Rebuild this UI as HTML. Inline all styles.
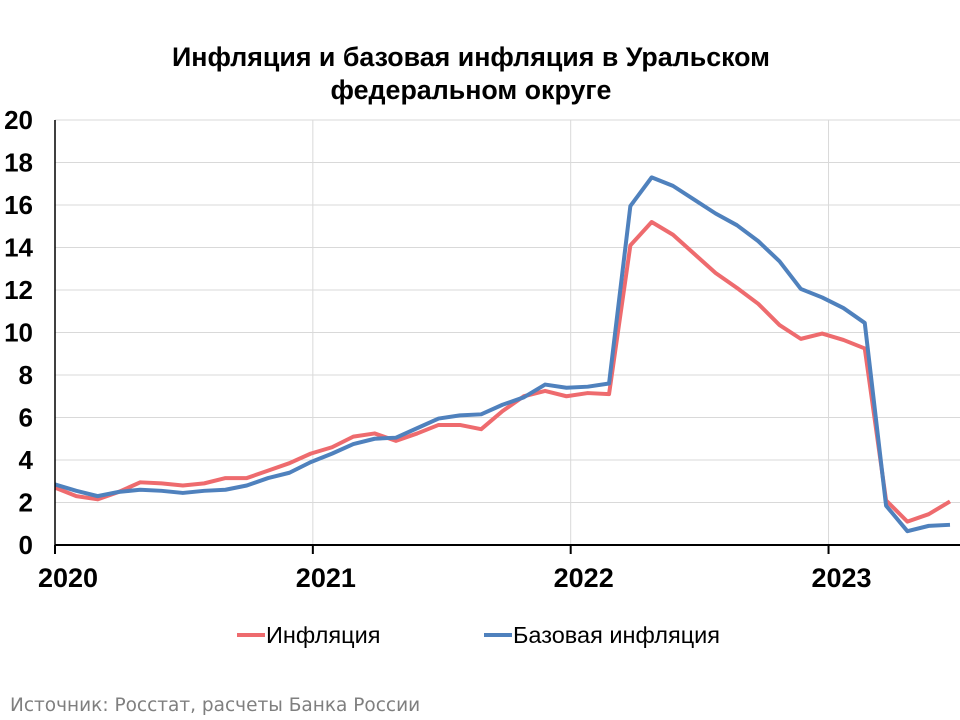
<!DOCTYPE html>
<html><head><meta charset="utf-8"><style>
body{margin:0;background:#fff;}
svg{display:block;font-family:"Liberation Sans","DejaVu Sans",sans-serif;}
</style></head><body>
<svg id="chart" width="960" height="720" viewBox="0 0 960 720">
<text x="471" y="66" text-anchor="middle" font-size="26.8" font-weight="bold">Инфляция и базовая инфляция в Уральском</text>
<text x="471" y="99" text-anchor="middle" font-size="26.8" font-weight="bold">федеральном округе</text>
<g id="grid"></g><g id="series"></g><g id="axes"></g>
<g>
<line x1="237" y1="635" x2="265" y2="635" stroke="#EE6B6E" stroke-width="4"/>
<text x="266" y="643" font-size="23.5">Инфляция</text>
<line x1="484" y1="635" x2="512" y2="635" stroke="#4F81BD" stroke-width="4"/>
<text x="513" y="643" font-size="23.5">Базовая инфляция</text>
</g>
<text x="10" y="711" font-size="18.5" fill="#7f7f7f" font-family="'DejaVu Sans',sans-serif">Источник: Росстат, расчеты Банка России</text>
</svg>
<script>
const inflation=[2.7,2.3,2.15,2.5,2.95,2.9,2.8,2.9,3.15,3.15,3.5,3.85,4.3,4.6,5.1,5.25,4.9,5.25,5.65,5.65,5.45,6.3,7.0,7.25,7.0,7.15,7.1,14.1,15.2,14.6,13.7,12.8,12.1,11.35,10.35,9.7,9.95,9.65,9.25,2.1,1.1,1.45,2.05];
const coreInflation=[2.85,2.55,2.3,2.5,2.6,2.55,2.45,2.55,2.6,2.8,3.15,3.4,3.9,4.3,4.75,5.0,5.05,5.5,5.95,6.1,6.15,6.6,6.95,7.55,7.4,7.45,7.6,15.95,17.3,16.9,16.25,15.6,15.05,14.3,13.35,12.05,11.65,11.15,10.45,1.85,0.65,0.9,0.95];
const yTicks=[0,2,4,6,8,10,12,14,16,18,20];
const yearLabels=["2020","2021","2022","2023"];
const yearTickIdx=[0,12.1,24.2,36.3];
const NS="http://www.w3.org/2000/svg";
const L=55,R=960,T=120,B=545;
function x(i){return L+i*((950-L)/42);}
function y(v){return B-(v/20)*(B-T);}
function mk(tag,attrs,parent){const e=document.createElementNS(NS,tag);for(const k in attrs)e.setAttribute(k,attrs[k]);parent.appendChild(e);return e;}
const grid=document.getElementById('grid'),axes=document.getElementById('axes'),ser=document.getElementById('series');
yTicks.forEach(t=>{
 if(t>0){const g=mk('line',{x1:L,x2:R,y1:y(t),y2:y(t),stroke:'#d9d9d9','stroke-width':1},grid);
 
 }
 const lb=mk('text',{x:L-22,y:y(t)+9,'text-anchor':'end','font-size':26,'font-weight':'bold'},axes);
 lb.textContent=t;
 
 
});
yearTickIdx.forEach((idx,k)=>{
 const xx=x(idx);
 if(k>0){const g=mk('line',{x1:xx,x2:xx,y1:T,y2:B,stroke:'#d9d9d9','stroke-width':1},grid);
 
 }
 mk('line',{x1:xx,x2:xx,y1:B,y2:B+9,stroke:'#000','stroke-width':2},axes);
 const lb=mk('text',{x:xx+13,y:B+42,'text-anchor':'middle','font-size':27,'font-weight':'bold'},axes);
 lb.textContent=yearLabels[k];
 
 
});
const ya=mk('line',{x1:L,x2:L,y1:T,y2:B,stroke:'#000','stroke-width':1.5},axes);


const xa=mk('line',{x1:L,x2:R,y1:B,y2:B,stroke:'#000','stroke-width':2},axes);


function line(data,color,name){
 const p=mk('polyline',{points:data.map((v,i)=>x(i)+','+y(v)).join(' '),fill:'none',stroke:color,'stroke-width':4,'stroke-linejoin':'round'},ser);
 
 
}
line(inflation,'#EE6B6E','inflation-line');
line(coreInflation,'#4F81BD','core-inflation-line');
</script>
</body></html>
